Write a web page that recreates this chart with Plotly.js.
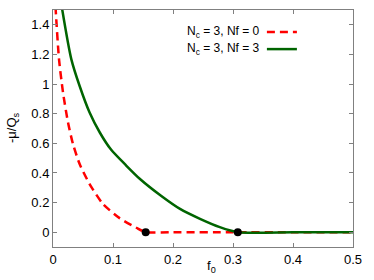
<!DOCTYPE html>
<html>
<head>
<meta charset="utf-8">
<script src="https://cdn.plot.ly/plotly-3.0.1.min.js"></script>
<style>html,body{margin:0;padding:0;background:#fff;}#chart{width:374px;height:280px;}</style>
</head>
<body>
<div id="chart"></div>
<script>
// Series: Nc = 3, Nf = 0 (red dashed)
const f0_nf0 = [0.002, 0.0045, 0.010, 0.0167, 0.025, 0.0333, 0.0444, 0.061, 0.0833, 0.111, 0.139, 0.1545, 0.2, 0.3, 0.4, 0.5];
const mu_nf0 = [1.7, 1.5, 1.168, 0.943, 0.741, 0.595, 0.46, 0.325, 0.19, 0.095, 0.03, 0.0, 0.0, 0.0, 0.0, 0.0];
// Series: Nc = 3, Nf = 3 (green solid)
const f0_nf3 = [0.011, 0.0155, 0.0306, 0.0444, 0.061, 0.078, 0.097, 0.122, 0.145, 0.18, 0.2117, 0.245, 0.278, 0.308, 0.4, 0.5];
const mu_nf3 = [1.62, 1.5, 1.167, 0.987, 0.808, 0.673, 0.556, 0.45, 0.359, 0.246, 0.157, 0.09, 0.034, 0.0, 0.0, 0.0];
// Critical points
const crit_f0 = [0.1545, 0.308];
const crit_mu = [0, 0];
const xTicks = [0, 0.1, 0.2, 0.3, 0.4, 0.5];
const xTickLabels = ['0', '0.1', '0.2', '0.3', '0.4', '0.5'];
const yTicks = [0, 0.2, 0.4, 0.6, 0.8, 1, 1.2, 1.4];
const yTickLabels = ['0', '0.2', '0.4', '0.6', '0.8', '1', '1.2', '1.4'];
const legendLabels = ['N<sub>c</sub> = 3, Nf = 0', 'N<sub>c</sub> = 3, Nf = 3'];

const red = '#ff0000';
const green = '#006400';
const font = {family: 'Liberation Sans, Arial, sans-serif', size: 13, color: '#000'};
const legFont = {family: 'Liberation Sans, Arial, sans-serif', size: 12, color: '#000'};

const traces = [
  {x: f0_nf0, y: mu_nf0, mode: 'lines', line: {color: red, width: 2.5, dash: '8px,5px', shape: 'spline', smoothing: 0.6}, showlegend: false},
  {x: f0_nf3, y: mu_nf3, mode: 'lines', line: {color: green, width: 2.5, shape: 'spline', smoothing: 0.6}, showlegend: false},
  {x: crit_f0, y: crit_mu, mode: 'markers', marker: {color: '#000', size: 8}, showlegend: false, cliponaxis: false}
];

const axisCommon = {
  showgrid: false, zeroline: false, showline: true, mirror: 'ticks',
  linecolor: '#808080', linewidth: 1, ticks: 'inside', ticklen: 4, tickcolor: '#808080',
  tickfont: font
};

const layout = {
  width: 374, height: 280,
  margin: {l: 53, r: 21, t: 10, b: 33},
  paper_bgcolor: '#fff', plot_bgcolor: '#fff',
  font: font,
  xaxis: Object.assign({}, axisCommon, {range: [0, 0.5], tickvals: xTicks, ticktext: xTickLabels}),
  yaxis: Object.assign({}, axisCommon, {range: [-0.1, 1.5], tickvals: yTicks, ticktext: yTickLabels}),
  annotations: [
    {text: 'f<sub>0</sub>', xref: 'paper', yref: 'paper', x: 0.527, y: -0.084, yanchor: 'middle', xanchor: 'center', showarrow: false, font: font},
    {text: '-μ/Q<sub>s</sub>', xref: 'paper', yref: 'paper', x: -0.137, y: 0.506, xanchor: 'center', yanchor: 'middle', textangle: -90, showarrow: false, font: font},
    {text: legendLabels[0], xref: 'paper', yref: 'paper', x: 0.697, y: 0.907, xanchor: 'right', yanchor: 'middle', showarrow: false, font: legFont},
    {text: legendLabels[1], xref: 'paper', yref: 'paper', x: 0.697, y: 0.835, xanchor: 'right', yanchor: 'middle', showarrow: false, font: legFont}
  ],
  shapes: [
    {type: 'line', xref: 'paper', yref: 'paper', x0: 0.713, x1: 0.813, y0: 0.907, y1: 0.907, line: {color: red, width: 2.5, dash: '8px,5px'}},
    {type: 'line', xref: 'paper', yref: 'paper', x0: 0.713, x1: 0.813, y0: 0.835, y1: 0.835, line: {color: green, width: 2.5}}
  ]
};

Plotly.newPlot('chart', traces, layout, {staticPlot: true, displayModeBar: false});
</script>
</body>
</html>
